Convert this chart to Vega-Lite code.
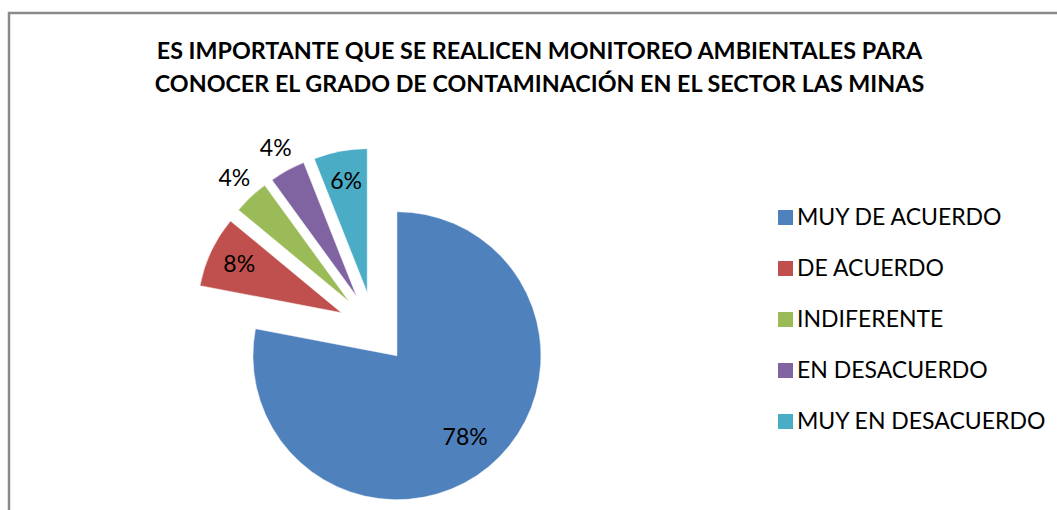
{
  "$schema": "https://vega.github.io/schema/vega-lite/v6.json",
  "autosize": "none",
  "padding": {"left": 9, "top": 13, "right": -3, "bottom": -3},
  "width": 1051,
  "height": 500,
  "background": "white",
  "view": {"stroke": "#8a8a8a", "strokeWidth": 2.5, "fill": "white"},
  "config": {
    "font": "Lato"
  },
  "title": {
    "text": ["ES IMPORTANTE QUE SE REALICEN MONITOREO AMBIENTALES PARA", "CONOCER EL GRADO DE CONTAMINACIÓN EN EL SECTOR LAS MINAS"],
    "anchor": "middle",
    "offset": -84,
    "dx": 5,
    "font": "Lato",
    "fontSize": 23.3,
    "fontWeight": "bold",
    "lineHeight": 33,
    "color": "black"
  },
  "data": {
    "values": [
      {"cat": "MUY DE ACUERDO", "pct": 0.78},
      {"cat": "DE ACUERDO", "pct": 0.08},
      {"cat": "INDIFERENTE", "pct": 0.04},
      {"cat": "EN DESACUERDO", "pct": 0.04},
      {"cat": "MUY EN DESACUERDO", "pct": 0.06}
    ]
  },
  "transform": [
    {"window": [{"op": "sum", "field": "pct", "as": "cum"}, {"op": "row_number", "as": "idx"}], "frame": [null, 0]},
    {"joinaggregate": [{"op": "sum", "field": "pct", "as": "total"}]},
    {"calculate": "2 * PI * (datum.cum - datum.pct / 2) / datum.total", "as": "mid"},
    {"calculate": "36 * sin(datum.mid)", "as": "dx"},
    {"calculate": "-36 * cos(datum.mid)", "as": "dy"}
  ],
  "encoding": {
    "theta": {"field": "pct", "type": "quantitative", "stack": true},
    "order": {"field": "idx", "type": "quantitative"}
  },
  "layer": [
    {
      "mark": {"type": "arc", "x": 365, "y": 315, "xOffset": {"expr": "datum.dx"}, "yOffset": {"expr": "datum.dy"}, "radius": 144, "stroke": "white", "strokeWidth": 0.5},
      "encoding": {
        "color": {
          "field": "cat",
          "type": "nominal",
          "sort": ["MUY DE ACUERDO", "DE ACUERDO", "INDIFERENTE", "EN DESACUERDO", "MUY EN DESACUERDO"],
          "scale": {
            "domain": ["MUY DE ACUERDO", "DE ACUERDO", "INDIFERENTE", "EN DESACUERDO", "MUY EN DESACUERDO"],
            "range": ["#4F81BD", "#C0504D", "#9BBB59", "#8064A2", "#4BACC6"]
          },
          "legend": {
            "title": null,
            "orient": "none",
            "legendX": 765,
            "legendY": 193,
            "symbolType": "square",
            "symbolSize": 225,
            "symbolStrokeWidth": 0,
            "labelFont": "Lato",
            "labelFontSize": 23,
            "labelColor": "black",
            "labelOffset": 0,
            "rowPadding": 27,
            "labelLimit": 400
          }
        }
      }
    },
    {
      "mark": {
        "type": "text",
        "x": 365,
        "y": 315,
        "xOffset": {"expr": "datum.dx"},
        "yOffset": {"expr": "datum.dy"},
        "radius": {"expr": "datum.pct < 0.05 ? 168 : (datum.pct > 0.5 ? 107 : 113)"},
        "font": "Lato",
        "fontSize": 23,
        "color": "black",
        "align": "center",
        "baseline": "middle"
      },
      "encoding": {
        "text": {"field": "pct", "type": "quantitative", "format": ".0%"}
      }
    }
  ]
}
